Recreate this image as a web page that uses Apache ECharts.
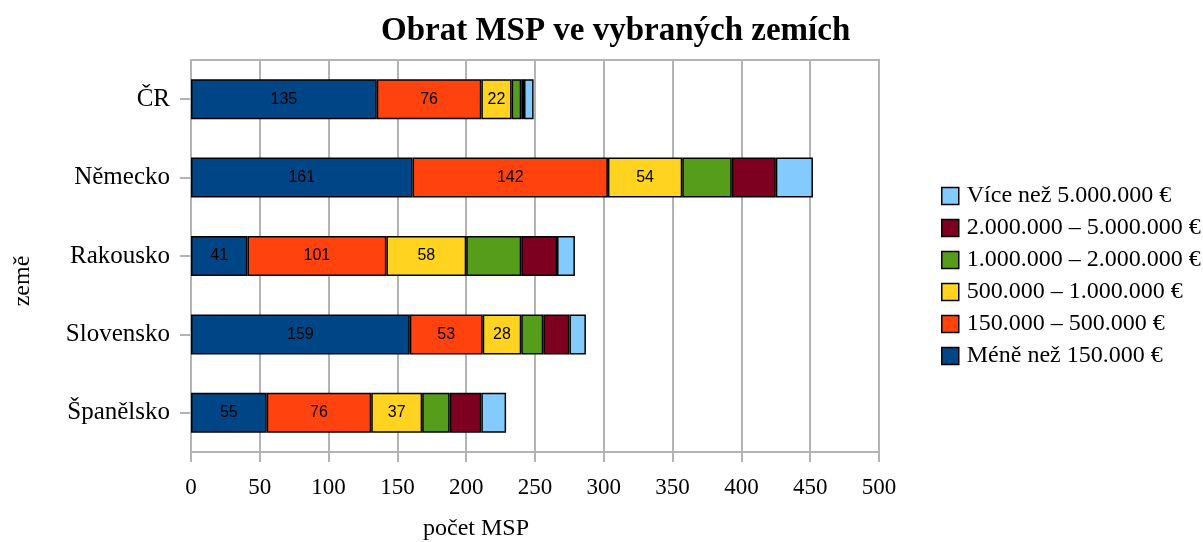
<!DOCTYPE html>
<html>
<head>
<meta charset="utf-8">
<script src="https://cdn.jsdelivr.net/npm/echarts@6/dist/echarts.min.js"></script>
<style>
  html, body { margin: 0; padding: 0; background: #fff; }
  #chart { width: 1203px; height: 542px; }
</style>
</head>
<body>
<div id="chart"></div>
<script>
const countries = ['ČR', 'Německo', 'Rakousko', 'Slovensko', 'Španělsko']
const seriesNames = [
  'Méně než 150.000 €',
  '150.000 – 500.000 €',
  '500.000 – 1.000.000 €',
  '1.000.000 – 2.000.000 €',
  '2.000.000 – 5.000.000 €',
  'Více než 5.000.000 €',
]
const below150k = [135, 161, 41, 159, 55]
const from150kTo500k = [76, 142, 101, 53, 76]
const from500kTo1m = [22, 54, 58, 28, 37]
const from1mTo2m = [7, 36, 40, 16, 20]
const from2mTo5m = [2, 32, 26, 19, 23]
const above5m = [7, 27, 13, 12, 18]
const colors = ['#004586', '#ff420e', '#ffd320', '#579d1c', '#7e0021', '#83caff']

const serif = '"Liberation Serif", "DejaVu Serif", serif'
const values = [below150k, from150kTo500k, from500kTo1m, from1mTo2m, from2mTo5m, above5m]

const chart = echarts.init(document.getElementById('chart'))

chart.setOption({
  animation: false,
  title: {
    text: 'Obrat MSP ve vybraných zemích',
    left: 376,
    top: 10,
    textStyle: { fontFamily: serif, fontSize: 33, fontWeight: 'bold', color: '#000' },
  },
  legend: {
    orient: 'vertical',
    left: 936,
    top: 179,
    icon: 'rect',
    itemWidth: 17,
    itemHeight: 17,
    itemGap: 8,
    data: seriesNames.slice().reverse(),
    itemStyle: { borderColor: '#000', borderWidth: 1.5 },
    textStyle: { fontFamily: serif, fontSize: 24, color: '#000', padding: [0, 0, 0, 3] },
  },
  grid: {
    left: 191,
    right: 324,
    top: 60,
    bottom: 90,
    outerBoundsMode: 'none',
    show: true,
    borderColor: '#b3b3b3',
    borderWidth: 2,
  },
  xAxis: {
    type: 'value',
    min: 0,
    max: 500,
    interval: 50,
    name: 'počet MSP',
    nameLocation: 'middle',
    nameGap: 65,
    nameTextStyle: { fontFamily: serif, fontSize: 24, color: '#000', padding: [0, 118, 0, 0] },
    axisLine: { show: true, lineStyle: { color: '#b3b3b3', width: 2 } },
    axisTick: { show: true, length: 10, lineStyle: { color: '#b3b3b3', width: 2 } },
    axisLabel: { margin: 24, fontFamily: serif, fontSize: 23, color: '#000' },
    splitLine: { lineStyle: { color: '#b3b3b3', width: 2 } },
  },
  yAxis: {
    type: 'category',
    inverse: true,
    data: countries,
    name: 'země',
    nameLocation: 'middle',
    nameGap: 156,
    nameTextStyle: { fontFamily: serif, fontSize: 24, color: '#000', padding: [0, 50, 0, 0] },
    axisLine: { show: true, lineStyle: { color: '#b3b3b3', width: 2 } },
    axisTick: { show: true, alignWithLabel: true, length: 11, lineStyle: { color: '#b3b3b3', width: 2 } },
    axisLabel: { margin: 21, fontFamily: serif, fontSize: 25, color: '#000' },
    splitLine: { show: false },
  },
  series: seriesNames.map((name, i) => ({
    name,
    type: 'bar',
    stack: 'total',
    barWidth: 40,
    data: values[i],
    itemStyle: { color: colors[i], borderColor: '#000', borderWidth: 1.5 },
    label: {
      show: i < 3,
      position: 'inside',
      color: '#000',
      fontFamily: '"Liberation Sans", Arial, sans-serif',
      fontSize: 16,
    },
  })),
})
</script>
</body>
</html>
